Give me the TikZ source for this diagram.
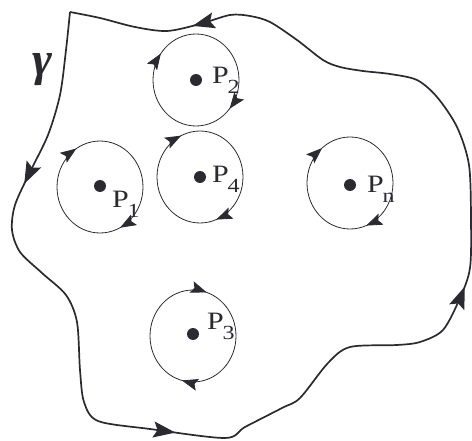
\documentclass[tikz,border=0pt]{standalone}
\usepackage{fontspec}
\setmainfont{Liberation Serif}
\usetikzlibrary{arrows.meta,decorations.markings}
\definecolor{ink}{RGB}{42,42,48}
\newcommand{\ptlab}[1]{\scalebox{1.2}[1]{P\kern-1pt\raisebox{-10pt}{\fontsize{20}{20}\selectfont #1}}}

\tikzset{
  dot/.style={circle, fill=ink, inner sep=0pt, minimum size=12pt},
  ptname/.style={anchor=base west, inner sep=0pt, font=\fontsize{25}{25}\selectfont},
  hole/.style 2 args={line width=0.8pt, postaction={decorate},
    decoration={markings,
      mark=at position #1 with {\arrow{Stealth[length=16pt,width=12pt,inset=3pt]}},
      mark=at position #2 with {\arrow{Stealth[length=16pt,width=12pt,inset=3pt]}}}}
}

\begin{document}
\begin{tikzpicture}[x=1pt, y=-1pt, color=ink]
  \useasboundingbox (0,0) rectangle (472,441);
  % outer contour, counter-clockwise on the page
  \draw[line width=1.7pt, postaction={decorate},
    decoration={markings,
      mark=at position 0.122 with {\arrow{Stealth[length=22pt,width=16pt,inset=4pt]}},
      mark=at position 0.358 with {\arrow{Stealth[length=22pt,width=16pt,inset=4pt]}},
      mark=at position 0.598 with {\arrow{Stealth[length=22pt,width=16pt,inset=4pt]}},
      mark=at position 0.915 with {\arrow{Stealth[length=22pt,width=16pt,inset=4pt]}}}]
    plot[smooth, tension=0.5] coordinates {
      (70,12) (66,50) (60,95) (48,135) (30,172) (15,205) (12,230) (20,252)
      (42,273) (66,295) (77,322) (80,370) (84,402) (98,421) (150,429) (225,438)
      (245,427) (282,408) (300,398) (328,363) (350,347) (397,345) (420,342)
      (443,330) (460,298) (470,268) (471,220) (469,165) (457,127) (437,97)
      (417,80) (390,74) (363,71) (340,67) (323,60) (297,40) (270,22) (250,16)
      (230,15) (200,24) (167,31) (135,27) (100,18) (70,12)};
  \node[font=\fontsize{48}{48}\selectfont\bfseries\itshape] (gam) at (42,70) {γ};
  % the points and the small circles round them
  \foreach \n/\x/\y/\dx/\dy/\cy/\pa/\pb in {1/100/186/12/22/187/0.175/0.66,
      2/196/80/16/4/80/0.11/0.6, 4/200/177/12/6/177/0.19/0.68,
      n/350/185/17/8/183/0.19/0.64, 3/193/334/14/-4/336/0.29/0.80} {
    \node[dot] (p\n) at (\x,\y) {};
    \draw[hole={\pa}{\pb}] (\x,\cy) circle[x radius=43, y radius=46];
    \node[ptname] (l\n) at (\x+\dx,\y+\dy) {\ptlab{\n}};
  }
\end{tikzpicture}
\end{document}
